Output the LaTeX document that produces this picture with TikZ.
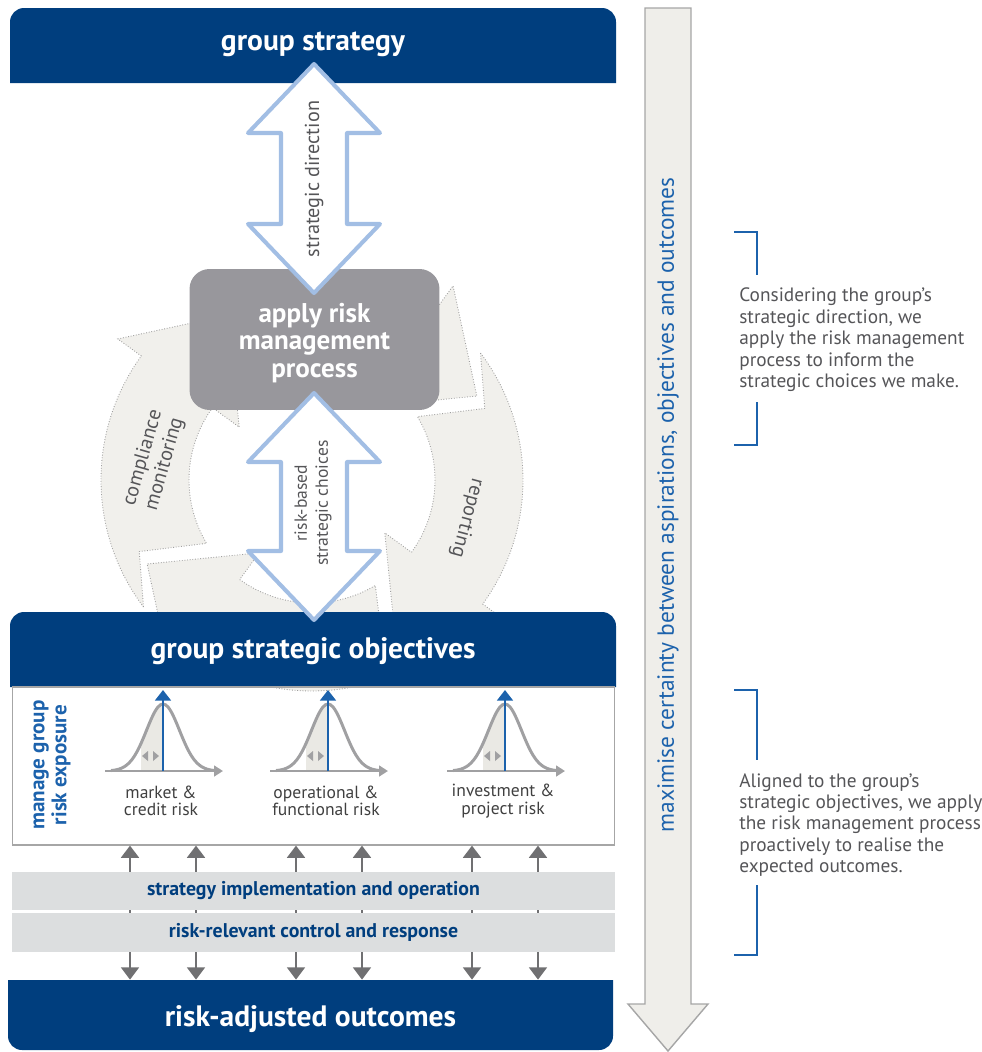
\documentclass[tikz,border=0pt]{standalone}
\usepackage{fontspec}
\setmainfont{PT Sans}
\usetikzlibrary{arrows.meta}

\definecolor{navy}{RGB}{0,62,126}
\definecolor{procgray}{RGB}{152,151,156}
\definecolor{paleblue}{RGB}{162,190,228}
\definecolor{ringfill}{RGB}{241,240,236}
\definecolor{bandgray}{RGB}{220,222,223}
\definecolor{midblue}{RGB}{28,98,172}
\definecolor{textgray}{RGB}{85,85,88}
\definecolor{curvegray}{RGB}{160,160,162}
\definecolor{tailfill}{RGB}{234,233,228}
\definecolor{flowgray}{RGB}{112,112,114}
\definecolor{shaftfill}{RGB}{239,238,234}

\begin{document}
\begin{tikzpicture}[
    x=0.02cm, y=-0.02cm,
    boxtitle/.style={text=white, font=\fontsize{16.8}{20}\selectfont\bfseries, inner sep=0pt},
    procbox/.style={fill=procgray, rounded corners=0.4cm, minimum width=5cm, minimum height=2.82cm},
    proctext/.style={text=white, align=center, font=\fontsize{15.4}{15.6}\selectfont\bfseries},
    blockarrow/.style={draw=paleblue, fill=white, line width=2.3pt, line join=round},
    arrowtext/.style={text=textgray, align=center, rotate=90},
    ringarrow/.style={fill=ringfill, draw=gray!75, densely dotted, line width=0.5pt},
    ringtext/.style={text=textgray, align=center, font=\fontsize{11.5}{12.8}\selectfont},
    band/.style={fill=bandgray, text=navy, minimum width=12.06cm, inner sep=0pt,
        font=\fontsize{11.3}{13}\selectfont\bfseries},
    flow/.style={{Triangle[width=10pt,length=7pt]}-{Triangle[width=10pt,length=7pt]},
        line width=1.7pt, draw=flowgray},
    bell/.style={draw=curvegray, line width=1.7pt},
    peak/.style={-{Triangle[width=9pt,length=6pt]}, draw=midblue, line width=1.1pt},
    riskname/.style={text=black!75, align=center, font=\fontsize{10}{9.8}\selectfont},
    bracket/.style={draw=midblue, line width=1.2pt},
    note/.style={text=textgray, align=left, anchor=west, inner sep=0pt, font=\fontsize{11}{12.2}\selectfont}
]
\useasboundingbox (0,0) rectangle (981,1052);

% long arrow on the right
\draw[fill=shaftfill, draw=black!35, line width=0.8pt]
    (645,8) -- (691,8) -- (691,1004) -- (708,1004) -- (668,1051) -- (628,1004) -- (645,1004) -- cycle;
\node[rotate=90, text=midblue, font=\fontsize{13.3}{15}\selectfont] (certainty) at (668,505)
    {maximise certainty between aspirations, objectives and outcomes};

% cycle round the process box: tail angle / head angle
\begin{scope}[shift={(312,480)}]
\foreach \a/\b in {143/216, 236/306, 323/396, 413/486}
    \draw[ringarrow] (\a:211) arc[start angle=\a, end angle=\b, radius=211]
        -- (\b:240) -- ({\b+27}:185) -- (\b:90) -- (\b:123)
        arc[start angle=\b, end angle=\a+6, radius=123] -- ({\a+14.5}:187) -- cycle;
\end{scope}
\node[ringtext, rotate=74] (compliance) at (154,461) {compliance\\monitoring};
\node[ringtext, rotate=-105] (reporting) at (467,518) {reporting};

% group strategy
\fill[navy] (10,83) [rounded corners=0.28cm] -- (10,8) -- (616,8) [sharp corners] -- (616,83) -- cycle;
\node[boxtitle] (strategy) at (313,44) {group strategy};

\node[procbox] (apply) at (314.5,339.5) {};
\node[proctext] (applytext) at (314.5,343) {apply risk\\management\\process};

% group strategic objectives
\fill[navy] (10,687) [rounded corners=0.28cm] -- (10,612) -- (616,612) [sharp corners] -- (616,687) -- cycle;
\node[boxtitle] (objectives) at (313,651) {group strategic objectives};

\node[draw=black!35, line width=0.6pt, minimum width=12.06cm, minimum height=3.16cm] (exposure) at (313.5,766) {};
\node[rotate=90, text=midblue, align=center, font=\fontsize{12}{12.5}\selectfont\bfseries] (explabel) at (52,765)
    {manage group\\risk exposure};

% distributions
\foreach \c/\lbl [count=\i] in {163/{market \&\\credit risk}, 328/{operational \&\\functional risk}, 505/{investment \&\\project risk}} {
    \fill[tailfill] (\c-22,771) -- plot[domain=-22:0, samples=12] ({\c+\x}, {771-67*exp(-((\x)*(\x))/544.5)}) -- (\c,771) -- cycle;
    \fill[curvegray] (\c-21,756) -- (\c-15,751) -- (\c-15,761) -- cycle;
    \fill[curvegray] (\c-4,756) -- (\c-10,751) -- (\c-10,761) -- cycle;
    \draw[curvegray, line width=1.4pt, -{Triangle[width=6pt,length=5pt]}] (\c-58,771) -- (\c+60,771);
    \draw[bell] plot[domain=-52:52, samples=41, smooth] ({\c+\x}, {771-67*exp(-((\x)*(\x))/544.5)});
    \draw[peak] (\c,771) -- (\c,690);
    \node[riskname] (risk\i) at (\c-2,801) {\lbl};
}

% links down to the outcomes
\node[boxtitle, minimum width=12.1cm, minimum height=1.4cm] (outcomes) at (310.5,1015) {};
\foreach \x in {130,196,296,362,472,538}
    \draw[flow] (exposure.south -| \x,0) -- (outcomes.north -| \x,0);

\node[band, minimum height=0.76cm] (implement) at (313.5,891) {strategy implementation and operation};
\node[band, minimum height=0.78cm] (response) at (313.5,932.5) {risk-relevant control and response};

% risk-adjusted outcomes
\fill[navy] (8,980) [rounded corners=0.28cm] -- (8,1050) -- (613,1050) [sharp corners] -- (613,980) -- cycle;
\node[boxtitle] (outcomestext) at (310.5,1019) {risk-adjusted outcomes};

% two-way block arrows
\foreach \ytop/\ybot in {64/293, 393/620}
    \draw[blockarrow] (314,\ytop) -- (380,\ytop+69) -- (347,\ytop+69) -- (347,\ybot-69) -- (380,\ybot-69)
        -- (314,\ybot) -- (248,\ybot-69) -- (281,\ybot-69) -- (281,\ytop+69) -- (248,\ytop+69) -- cycle;
\node[arrowtext, font=\fontsize{11.5}{13}\selectfont] (direction) at (314,179) {strategic direction};
\node[arrowtext, font=\fontsize{10}{12}\selectfont] (choices) at (313,503) {risk-based\\strategic choices};

% side notes
\draw[bracket] (734,232) -- (757,232) -- (757,275);
\draw[bracket] (757,402) -- (757,445) -- (734,445);
\node[note] (notestrategy) at (739,340) {Considering the group’s\\strategic direction, we\\apply the risk management\\process to inform the\\strategic choices we make.};

\draw[bracket] (734,690) -- (757,690) -- (757,760);
\draw[bracket] (757,885) -- (757,955) -- (734,955);
\node[note] (noteobjectives) at (739,825) {Aligned to the group’s\\strategic objectives, we apply\\the risk management process\\proactively to realise the\\expected outcomes.};

\end{tikzpicture}
\end{document}
